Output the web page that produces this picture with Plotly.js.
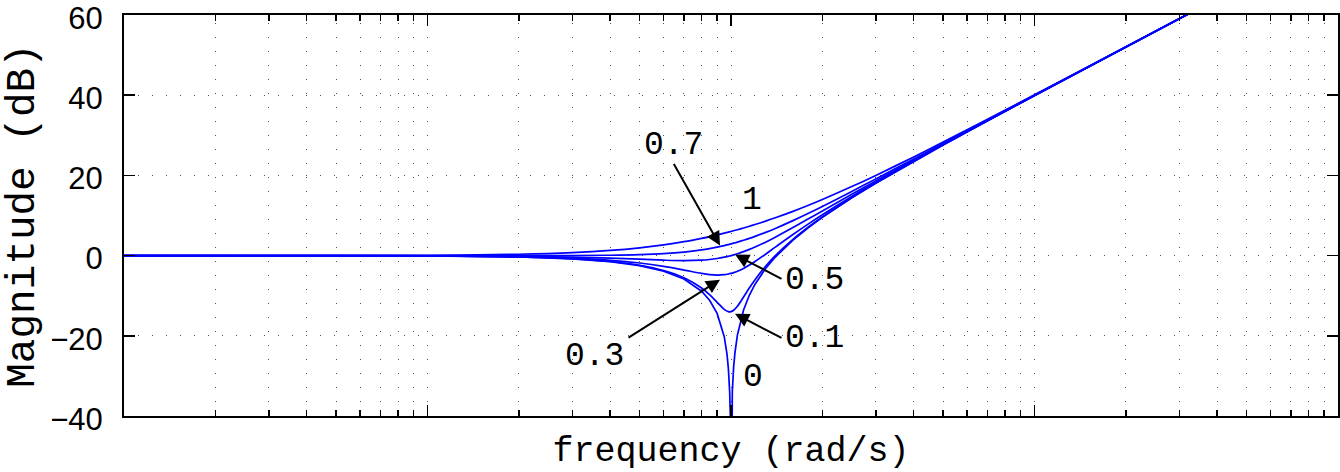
<!DOCTYPE html>
<html>
<head>
<meta charset="utf-8">
<script src="https://cdn.plot.ly/plotly-3.0.1.min.js"></script>
<style>html,body{margin:0;padding:0;background:#fff;}#plot{width:1340px;height:472px;}</style>
</head>
<body>
<div id="plot"></div>
<script>
// frequency samples (rad/s)
var freq = [0.01, 0.05, 0.1, 0.2, 0.3, 0.4, 0.5, 0.6, 0.7, 0.8, 0.85, 0.9, 0.95, 0.98, 1.0, 1.02, 1.05, 1.1, 1.15, 1.2, 1.3, 1.4, 1.6, 1.8, 2, 2.5, 3, 4, 5, 7, 10, 20, 40];
var freqZero = [0.01, 0.05, 0.1, 0.2, 0.3, 0.4, 0.5, 0.6, 0.7, 0.8, 0.85, 0.9, 0.95, 0.97, 0.98, 0.99, 0.995, 1.0, 1.005, 1.01, 1.02, 1.03, 1.05, 1.1, 1.15, 1.2, 1.3, 1.4, 1.6, 1.8, 2, 2.5, 3, 4, 5, 7, 10, 20, 40];

// magnitude (dB) for each damping ratio
var mag0 = [0.0, -0.022, -0.087, -0.354, -0.819, -1.514, -2.499, -3.876, -5.849, -8.874, -11.135, -14.425, -20.22, -24.57, -28.05, -34.02, -40.02, -100, -39.98, -33.94, -27.87, -24.31, -19.79, -13.556, -9.829, -7.131, -3.223, -0.354, 3.862, 7.005, 9.542, 14.403, 18.062, 23.522, 27.604, 33.625, 39.913, 52.019, 64.077];
var mag01 = [0.0, -0.021, -0.085, -0.347, -0.80, -1.475, -2.422, -3.726, -5.533, -8.091, -9.751, -11.643, -13.41, -13.98, -13.98, -13.64, -12.63, -10.34, -8.04, -6.00, -2.65, 0.0, 4.04, 7.12, 9.62, 14.44, 18.09, 23.53, 27.61, 33.63, 39.92, 52.02, 64.08];
var mag03 = [0.0, -0.018, -0.071, -0.287, -0.653, -1.174, -1.854, -2.683, -3.600, -4.437, -4.722, -4.845, -4.757, -4.593, -4.437, -4.246, -3.900, -3.190, -2.365, -1.475, 0.352, 2.114, 5.257, 7.913, 10.187, 14.744, 18.276, 23.632, 27.672, 33.658, 39.929, 52.023, 64.08];
var mag05 = [0.0, -0.011, -0.043, -0.170, -0.371, -0.627, -0.902, -1.137, -1.249, -1.137, -0.972, -0.726, -0.400, -0.168, 0.0, 0.179, 0.465, 0.983, 1.543, 2.131, 3.357, 4.596, 6.984, 9.169, 11.139, 15.291, 18.633, 23.820, 27.789, 33.716, 39.957, 52.030, 64.08];
var mag07 = [0.0, 0.0, -0.001, 0.0, 0.019, 0.083, 0.222, 0.474, 0.866, 1.411, 1.741, 2.105, 2.500, 2.751, 2.923, 3.098, 3.367, 3.831, 4.307, 4.794, 5.785, 6.779, 8.722, 10.557, 12.263, 16.000, 19.119, 24.088, 27.959, 33.802, 39.999, 52.041, 64.08];
var mag1 = [0.0, 0.022, 0.086, 0.341, 0.749, 1.289, 1.938, 2.671, 3.464, 4.297, 4.723, 5.154, 5.587, 5.847, 6.021, 6.194, 6.455, 6.888, 7.319, 7.748, 8.595, 9.426, 11.029, 12.547, 13.979, 17.207, 20.0, 24.609, 28.299, 33.979, 40.086, 52.063, 64.09];

// curve labels
var curveLabels = ['0.7', '1', '0.5', '0.3', '0.1', '0'];
var yTickVals = [-40, -20, 0, 20, 40, 60];

var blue = 'rgb(0,0,255)';
function tr(x, y, shape) {
  return {x: x, y: y, type: 'scatter', mode: 'lines', hoverinfo: 'skip',
          line: {color: blue, width: 1.7, shape: shape}};
}
var data = [
  tr(freqZero, mag0, 'linear'),
  tr(freq, mag01, 'spline'),
  tr(freq, mag03, 'spline'),
  tr(freq, mag05, 'spline'),
  tr(freq, mag07, 'spline'),
  tr(freq, mag1, 'spline')
];

var mono = 'Liberation Mono, Courier New, monospace';
var labelFont = {family: mono, size: 33, color: 'black'};
// label placements [x, y] in data units
var labelPos = [[0.644, 27.5], [1.173, 13.75], [1.877, -6.25], [0.3537, -25.25], [1.877, -20.75], [1.182, -30.5]];
var annotations = curveLabels.map(function (t, i) {
  return {x: Math.log10(labelPos[i][0]), y: labelPos[i][1], xref: 'x', yref: 'y', text: t,
          showarrow: false, font: labelFont};
});
// arrows: head [x, y] in data, tail offset in px
var arrows = [[0.920, 2.5, -47, -83], [1.031, 0.25, 48, 25], [0.920, -6.0, -93, 59], [1.031, -14.5, 48, 25]];
arrows.forEach(function (a) {
  annotations.push({x: Math.log10(a[0]), y: a[1], xref: 'x', yref: 'y', ax: a[2], ay: a[3],
    text: '', showarrow: true, arrowhead: 2, arrowsize: 1.4, arrowwidth: 2, arrowcolor: 'black', standoff: 0});
});

var gridCol = '#555';
var layout = {
  width: 1340, height: 472,
  margin: {l: 124, r: 2, t: 15, b: 56},
  paper_bgcolor: 'white', plot_bgcolor: 'white',
  showlegend: false,
  xaxis: {
    type: 'log', range: [-2, 2], dtick: 1,
    showticklabels: false,
    ticks: 'inside', ticklen: 11, tickwidth: 1.5, tickcolor: 'black',
    showline: true, linewidth: 2, linecolor: 'black', mirror: 'ticks',
    showgrid: true, gridcolor: gridCol, gridwidth: 1, griddash: '0px,8px,1px,5px',
    minor: {dtick: 'D1', ticks: 'inside', ticklen: 6, tickwidth: 1.5, tickcolor: 'black',
            showgrid: true, gridcolor: gridCol, gridwidth: 1, griddash: '0px,8px,1px,5px'},
    title: {text: 'frequency (rad/s)', font: {family: mono, size: 35, color: 'black'}, standoff: 22},
    automargin: false
  },
  yaxis: {
    range: [-40, 60], tickvals: yTickVals,
    ticks: 'inside', ticklen: 11, tickwidth: 1.5, tickcolor: 'black',
    showline: true, linewidth: 2, linecolor: 'black', mirror: 'ticks',
    showgrid: true, gridcolor: gridCol, gridwidth: 1, griddash: '1px,13px',
    zeroline: false,
    tickfont: {family: 'Liberation Sans, Arial, sans-serif', size: 31, color: 'black'},
    ticklabelstandoff: 13, ticklabeloverflow: 'allow', ticklabelshift: 3,
    title: {text: 'Magnitude (dB)', font: {family: mono, size: 41, color: 'black'}, standoff: 13},
    automargin: false
  },
  annotations: annotations
};
Plotly.newPlot('plot', data, layout, {displayModeBar: false, staticPlot: true});
</script>
</body>
</html>
